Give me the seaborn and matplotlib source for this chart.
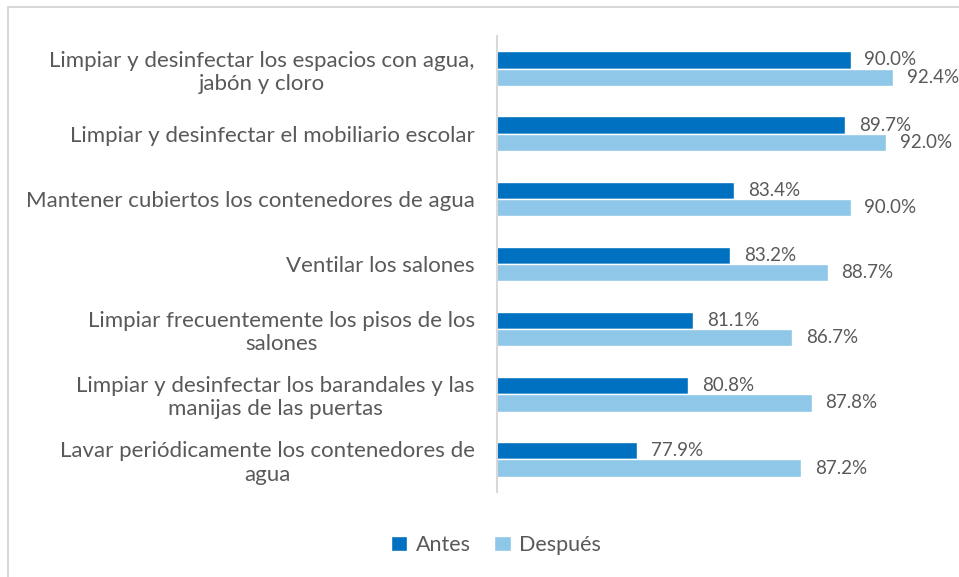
import pandas as pd
import matplotlib.pyplot as plt
import seaborn as sns

# Data
categorias = [
    'Limpiar y desinfectar los espacios con agua,\njabón y cloro',
    'Limpiar y desinfectar el mobiliario escolar',
    'Mantener cubiertos los contenedores de agua',
    'Ventilar los salones',
    'Limpiar frecuentemente los pisos de los\nsalones',
    'Limpiar y desinfectar los barandales y las\nmanijas de las puertas',
    'Lavar periódicamente los contenedores de\nagua',
]
antes = [90.0, 89.7, 83.4, 83.2, 81.1, 80.8, 77.9]
despues = [92.4, 92.0, 90.0, 88.7, 86.7, 87.8, 87.2]
series = ['Antes', 'Después']
colores = ['#0070C0', '#8FC7E8']

df = pd.DataFrame({
    'categoria': categorias * 2,
    'valor': antes + despues,
    'serie': [series[0]] * len(antes) + [series[1]] * len(despues),
})

sns.set_theme(style="white")
plt.rcParams['font.family'] = ['Lato', 'DejaVu Sans']
gris = '#595959'

fig = plt.figure(figsize=(9.59, 5.77), dpi=100)
ax = fig.add_axes([497 / 959, 1 - 492 / 577, (939 - 497) / 959, (492 - 36) / 577])

sns.barplot(data=df, y='categoria', x='valor', hue='serie', order=categorias,
            hue_order=series, palette=colores, orient='h', width=0.53,
            saturation=1, ax=ax, legend=True)

for cont in ax.containers:
    ax.bar_label(cont, fmt='%.1f%%', padding=10, color=gris, fontsize=13.5)

ax.set_xlim(70, 95)
ax.set_xticks([])
ax.set_xlabel('')
ax.set_ylabel('')
ax.tick_params(axis='y', length=0, pad=16, labelsize=16, labelcolor=gris)
for lab in ax.get_yticklabels():
    lab.set_multialignment('center')
for s in ['top', 'right', 'bottom']:
    ax.spines[s].set_visible(False)
ax.spines['left'].set_color('#D9D9D9')
ax.spines['left'].set_linewidth(1.5)

ax.legend(loc='center', bbox_to_anchor=(496 / 959, 1 - 545 / 577),
          bbox_transform=fig.transFigure, ncol=2, frameon=False,
          fontsize=15.5, labelcolor=gris, handlelength=0.75, handleheight=0.75,
          handletextpad=0.4, columnspacing=1.1)

# chart border (only top and left edges fall inside the image)
fig.add_artist(plt.Line2D([8 / 959, 1], [1 - 7 / 577] * 2, color='#D9D9D9', lw=1.5))
fig.add_artist(plt.Line2D([8 / 959] * 2, [0, 1 - 7 / 577], color='#D9D9D9', lw=1.5))

plt.savefig('out.png', dpi=100)
plt.close()
